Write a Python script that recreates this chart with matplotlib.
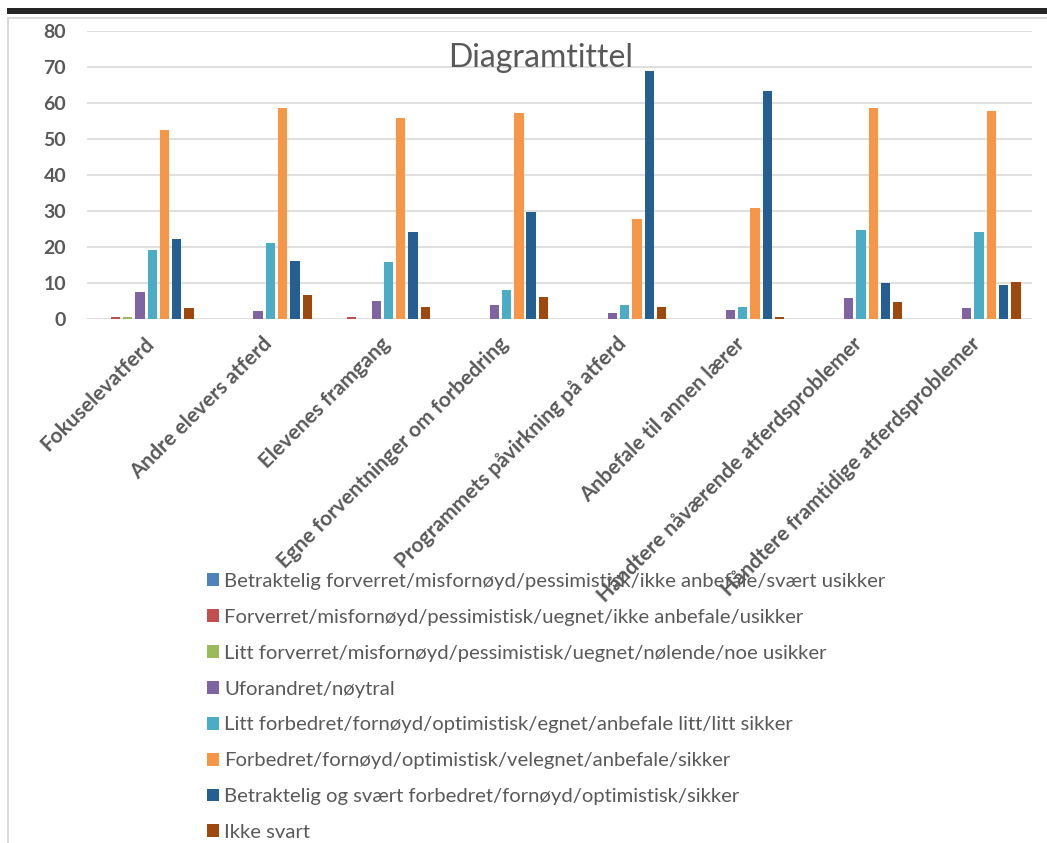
import numpy as np
import matplotlib
matplotlib.use('Agg')
import matplotlib.pyplot as plt
from matplotlib.patches import Rectangle, Patch

plt.rcParams['font.family'] = ['Lato', 'DejaVu Sans']

categories = ['Fokuselevatferd', 'Andre elevers atferd', 'Elevenes framgang',
              'Egne forventninger om forbedring', 'Programmets påvirkning på atferd',
              'Anbefale til annen lærer', 'Håndtere nåværende atferdsproblemer',
              'Håndtere framtidige atferdsproblemer']

series_names = [
    'Betraktelig forverret/misfornøyd/pessimistisk/ikke anbefale/svært usikker',
    'Forverret/misfornøyd/pessimistisk/uegnet/ikke anbefale/usikker',
    'Litt forverret/misfornøyd/pessimistisk/uegnet/nølende/noe usikker',
    'Uforandret/nøytral',
    'Litt forbedret/fornøyd/optimistisk/egnet/anbefale litt/litt sikker',
    'Forbedret/fornøyd/optimistisk/velegnet/anbefale/sikker',
    'Betraktelig og svært forbedret/fornøyd/optimistisk/sikker',
    'Ikke svart',
]

betraktelig_forverret = [0, 0, 0, 0, 0, 0, 0, 0]
forverret = [0.5, 0, 0.5, 0, 0, 0, 0, 0]
litt_forverret = [0.3, 0, 0, 0, 0, 0, 0, 0]
uforandret = [7.4, 2.0, 5.0, 3.8, 1.5, 2.3, 5.8, 2.8]
litt_forbedret = [19.1, 21.1, 15.8, 7.9, 3.8, 3.1, 24.7, 24.0]
forbedret = [52.5, 58.6, 55.7, 57.1, 27.6, 30.8, 58.6, 57.8]
svaert_forbedret = [22.0, 16.1, 24.0, 29.5, 68.8, 63.3, 9.9, 9.3]
ikke_svart = [2.9, 6.5, 3.2, 6.1, 3.1, 0.3, 4.6, 10.2]

series = [betraktelig_forverret, forverret, litt_forverret, uforandret,
          litt_forbedret, forbedret, svaert_forbedret, ikke_svart]
colors = ['#4F81BD', '#C0504D', '#9BBB59', '#8064A2',
          '#4BACC6', '#F79646', '#255E91', '#9E480E']

W, H = 1047, 843
fig = plt.figure(figsize=(W / 100, H / 100), dpi=100)
ax = fig.add_axes([87 / W, 1 - 318.5 / H, (1032 - 87) / W, (318.5 - 31) / H])

grey = '#595959'
x = np.arange(len(categories))
slot = 0.104
for i, (vals, c) in enumerate(zip(series, colors)):
    ax.bar(x + (i - 3.5) * slot, vals, width=0.079, color=c, zorder=3)

ax.set_xlim(-0.5, len(categories) - 0.5)
ax.set_ylim(0, 80)
ax.set_yticks(np.arange(0, 81, 10))
ax.yaxis.grid(True, color='#d9d9d9', linewidth=1.2, zorder=0)
ax.set_axisbelow(True)
for s in ax.spines.values():
    s.set_visible(False)
ax.tick_params(axis='both', length=0, labelcolor=grey)
ax.tick_params(axis='y', pad=15, labelsize=14)
for lab in ax.get_yticklabels():
    lab.set_fontweight('bold')
ax.set_xticks(x + 0.04)
ax.set_xticklabels(categories, rotation=45, ha='right', va='center',
                   rotation_mode='anchor', fontweight='bold', fontsize=15)
ax.tick_params(axis='x', pad=16)

fig.text(541 / W, 1 - 58 / H, 'Diagramtittel', ha='center', va='center',
         fontsize=23, color=grey)

handles = [Patch(facecolor=c, edgecolor='none') for c in colors]
fig.legend(handles, series_names, loc='upper left',
           bbox_to_anchor=(207 / W, 1 - 573 / H), frameon=False,
           fontsize=14.6, labelcolor=grey, handlelength=0.6, handleheight=0.6,
           handletextpad=0.25, labelspacing=0.93, borderpad=0, borderaxespad=0)

# frame decorations of the screenshot
fig.add_artist(Rectangle((7 / W, 1 - 14 / H), 1, 6 / H, transform=fig.transFigure,
                         color='#262626', lw=0))
fig.add_artist(Rectangle((7 / W, 1 - 18.5 / H), 1, 2 / H, transform=fig.transFigure,
                         color='#dcdcdc', lw=0))
fig.add_artist(Rectangle((7 / W, 0), 2 / W, 1 - 17 / H, transform=fig.transFigure,
                         color='#d9d9d9', lw=0))

fig.savefig('out.png', dpi=100)
